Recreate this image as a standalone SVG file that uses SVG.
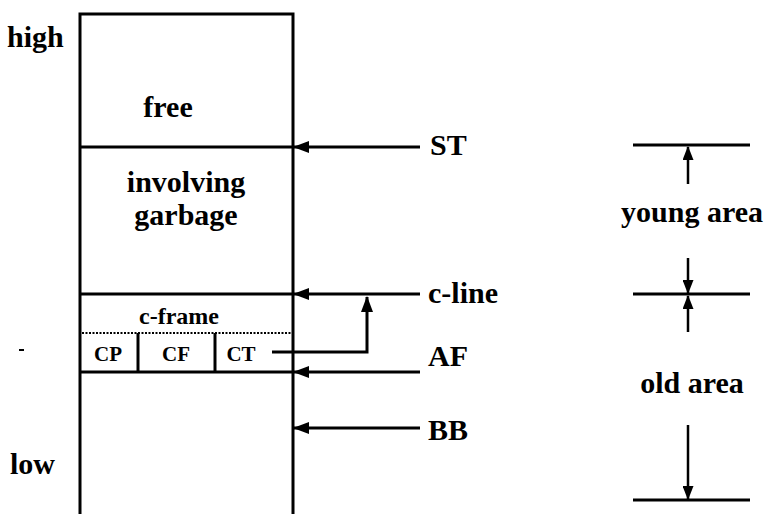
<svg xmlns="http://www.w3.org/2000/svg" width="766" height="514" viewBox="0 0 766 514">
<style>
text{font-family:"Liberation Serif","Times New Roman",serif;font-weight:bold;fill:#000}
.big{font-size:30px}
.mid{font-size:24px}
.sm{font-size:21px}
.ln{stroke:#000;stroke-width:3;fill:none}
.thin{stroke:#000;stroke-width:2.5;fill:none}
</style>
<defs>
<marker id="ah" viewBox="0 0 16 12" refX="15" refY="6" markerWidth="16" markerHeight="12" markerUnits="userSpaceOnUse" orient="auto">
<path d="M0,0 L16,6 L0,12 Z" fill="#000"/>
</marker>
<marker id="av" viewBox="0 0 14 11" refX="13" refY="5.5" markerWidth="14" markerHeight="11" markerUnits="userSpaceOnUse" orient="auto">
<path d="M0,0 L14,5.5 L0,11 Z" fill="#000"/>
</marker>
</defs>
<rect width="766" height="514" fill="#fff"/>
<g id="memory">
<path class="ln" d="M80,514 V14 H293 V514"/>
<line class="ln" x1="80" y1="147" x2="293" y2="147"/>
<line class="ln" x1="80" y1="294" x2="293" y2="294"/>
<line x1="82" y1="333" x2="291" y2="333" stroke="#000" stroke-width="2" stroke-dasharray="2,1.5"/>
<line class="ln" x1="80" y1="372" x2="293" y2="372"/>
<line class="ln" x1="138" y1="333" x2="138" y2="372"/>
<line class="ln" x1="215" y1="333" x2="215" y2="372"/>
</g>
<g id="labels-left">
<text class="big" x="7" y="47">high</text>
<text class="big" x="10" y="474">low</text>
<line x1="19" y1="350" x2="24" y2="350" stroke="#000" stroke-width="2"/>
</g>
<g id="free"><text class="big" x="168" y="117" text-anchor="middle">free</text></g>
<g id="garbage">
<text class="big" x="186" y="192" text-anchor="middle">involving</text>
<text class="big" x="186" y="225" text-anchor="middle">garbage</text>
</g>
<g id="cframe"><text class="mid" x="179" y="324" text-anchor="middle">c-frame</text></g>
<g id="cp"><text class="sm" x="108" y="361" text-anchor="middle">CP</text></g>
<g id="cf"><text class="sm" x="176" y="361" text-anchor="middle">CF</text></g>
<g id="ct"><text class="sm" x="241" y="361" text-anchor="middle">CT</text></g>
<g id="pointers">
<text class="big" x="430" y="155">ST</text>
<text class="big" x="428" y="303">c-line</text>
<text class="big" x="428" y="366">AF</text>
<text class="big" x="428" y="440">BB</text>
</g>
<g id="areas">
<line class="ln" x1="633" y1="145" x2="750" y2="145"/>
<line class="ln" x1="633" y1="294" x2="750" y2="294"/>
<line class="ln" x1="633" y1="500" x2="750" y2="500"/>
<text class="big" x="692" y="222" text-anchor="middle">young area</text>
<text class="big" x="692" y="393" text-anchor="middle">old area</text>
</g>
<g id="connectors">
<line class="ln" x1="420" y1="147" x2="294" y2="147" marker-end="url(#ah)"/>
<line class="ln" x1="420" y1="294" x2="294" y2="294" marker-end="url(#ah)"/>
<line class="ln" x1="420" y1="372" x2="294" y2="372" marker-end="url(#ah)"/>
<line class="ln" x1="420" y1="428" x2="294" y2="428" marker-end="url(#ah)"/>
<path class="ln" d="M272,352 H367 V297" marker-end="url(#ah)"/>
<line class="thin" x1="688" y1="184" x2="688" y2="147" marker-end="url(#av)"/>
<line class="thin" x1="688" y1="258" x2="688" y2="293" marker-end="url(#av)"/>
<line class="thin" x1="688" y1="332" x2="688" y2="296" marker-end="url(#av)"/>
<line class="thin" x1="688" y1="425" x2="688" y2="499" marker-end="url(#av)"/>
</g>
</svg>
